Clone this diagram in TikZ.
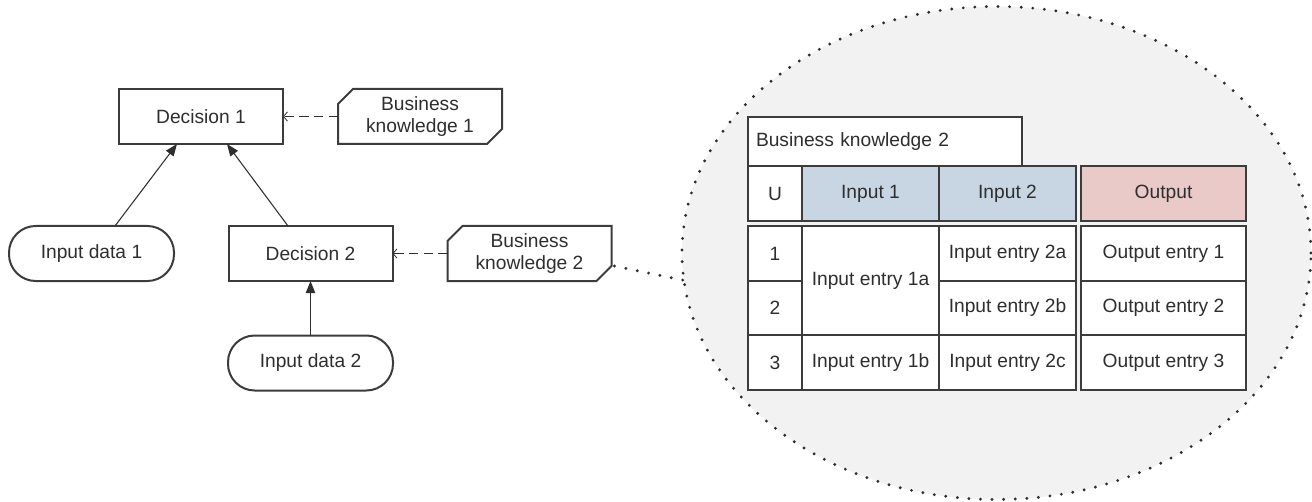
\documentclass[tikz,border=0pt]{standalone}
\usepackage{fontspec}
\setmainfont{Liberation Sans}
\usetikzlibrary{arrows.meta,calc,shapes.geometric}
\definecolor{ink}{HTML}{2E2E2E}
\definecolor{lineg}{HTML}{3C3C3C}
\definecolor{zoomfill}{HTML}{F2F2F2}
\definecolor{infill}{HTML}{C8D5E3}
\definecolor{outfill}{HTML}{EAC9C9}
\begin{document}
\begin{tikzpicture}[x=0.75pt,y=-0.75pt,
  every node/.style={font=\fontsize{14.4}{17}\selectfont, text=ink, inner sep=0pt, outer sep=0pt},
  decbox/.style={draw=lineg, line width=1.5pt, minimum width=123pt, minimum height=41.25pt},
  bkbox/.style={minimum width=123pt, minimum height=41.25pt, align=center},
  databox/.style={draw=lineg, line width=1.5pt, rounded corners=20pt, minimum width=123.75pt, minimum height=41.25pt},
  cell/.style={draw=lineg, line width=1.3pt},
  infoarrow/.style={draw=ink, line width=0.8pt, -{Triangle[length=9pt,width=7pt]}},
  knowarrow/.style={draw=ink, line width=1.2pt, dash pattern=on 7pt off 4pt, -{Straight Barb[length=3pt,width=7pt,line width=0.6pt]}},
  bkline/.style={draw=lineg, line width=1.5pt, line join=miter},
  dotline/.style={draw=ink, line width=2.4pt, line cap=round, dash pattern=on 0pt off 8.7pt}
]
\useasboundingbox (0,0) rectangle (1312,502);

% zoom ellipse
\node[ellipse, fill=zoomfill, minimum width=471.75pt, minimum height=369.75pt, dotline] (zoom) at (996.5,253) {};

% left graph
\node[decbox] (d1) at (201,116.5) {Decision 1};
\node[bkbox] (bk1) at (420,116.5) {Business\\knowledge 1};
\node[databox] (id1) at (91.5,253.5) {Input data 1};
\node[decbox] (d2) at (310.5,253.5) {Decision 2};
\node[bkbox] (bk2) at (529.5,253.5) {Business\\knowledge 2};
\node[databox] (id2) at (310.5,363) {Input data 2};

\foreach \b in {bk1,bk2}{
  \draw[bkline] ($(\b.north west)+(15,0)$) -- (\b.north east) -- ($(\b.south east)+(0,-15)$)
    -- ($(\b.south east)+(-15,0)$) -- (\b.south west) -- ($(\b.north west)+(0,15)$) -- cycle;
}

\draw[infoarrow] ($(id1.north)+(23.5,0)$) -- ($(d1.south)+(-24,0)$);
\draw[infoarrow] ($(d2.north)+(-22.5,0)$) -- ($(d1.south)+(26,0)$);
\draw[infoarrow] (id2.north) -- (d2.south);
\draw[knowarrow] (bk1.west) -- (d1.east);
\draw[knowarrow] (bk2.west) -- (d2.east);

\coordinate (bkcorner) at ($(bk2.south east)+(3,-15)$);
\draw[dotline] (bkcorner) -- (zoom.185.5);

% decision table
\node[cell, fill=white, minimum width=205.5pt, minimum height=36.75pt, text width=193.5pt, align=left] (title) at (885,141.5) {Business knowledge 2};
\node[cell, fill=white, minimum width=40.5pt, minimum height=41.25pt] (hu) at (775,193.5) {U};
\node[cell, fill=infill, minimum width=102.75pt, minimum height=41.25pt] (hin1) at (870.5,193.5) {Input 1};
\node[cell, fill=infill, minimum width=102.75pt, minimum height=41.25pt] (hin2) at (1007.5,193.5) {Input 2};
\node[cell, fill=outfill, minimum width=123.75pt, minimum height=41.25pt] (hout) at (1163.5,193.5) {Output};

\node[cell, fill=white, minimum width=40.5pt, minimum height=41.25pt] (u1) at (775,253.5) {1};
\node[cell, fill=white, minimum width=40.5pt, minimum height=40.5pt] (u2) at (775,308) {2};
\node[cell, fill=white, minimum width=40.5pt, minimum height=41.25pt] (u3) at (775,362.5) {3};

\node[cell, fill=white, minimum width=102.75pt, minimum height=81.75pt] (i1a) at (870.5,280.5) {Input entry 1a};
\node[cell, fill=white, minimum width=102.75pt, minimum height=41.25pt] (i1b) at (870.5,362.5) {Input entry 1b};

\node[cell, fill=white, minimum width=102.75pt, minimum height=41.25pt] (i2a) at (1007.5,253.5) {Input entry 2a};
\node[cell, fill=white, minimum width=102.75pt, minimum height=40.5pt] (i2b) at (1007.5,308) {Input entry 2b};
\node[cell, fill=white, minimum width=102.75pt, minimum height=41.25pt] (i2c) at (1007.5,362.5) {Input entry 2c};

\node[cell, fill=white, minimum width=123.75pt, minimum height=41.25pt] (o1) at (1163.5,253.5) {Output entry 1};
\node[cell, fill=white, minimum width=123.75pt, minimum height=40.5pt] (o2) at (1163.5,308) {Output entry 2};
\node[cell, fill=white, minimum width=123.75pt, minimum height=41.25pt] (o3) at (1163.5,362.5) {Output entry 3};
\end{tikzpicture}
\end{document}
